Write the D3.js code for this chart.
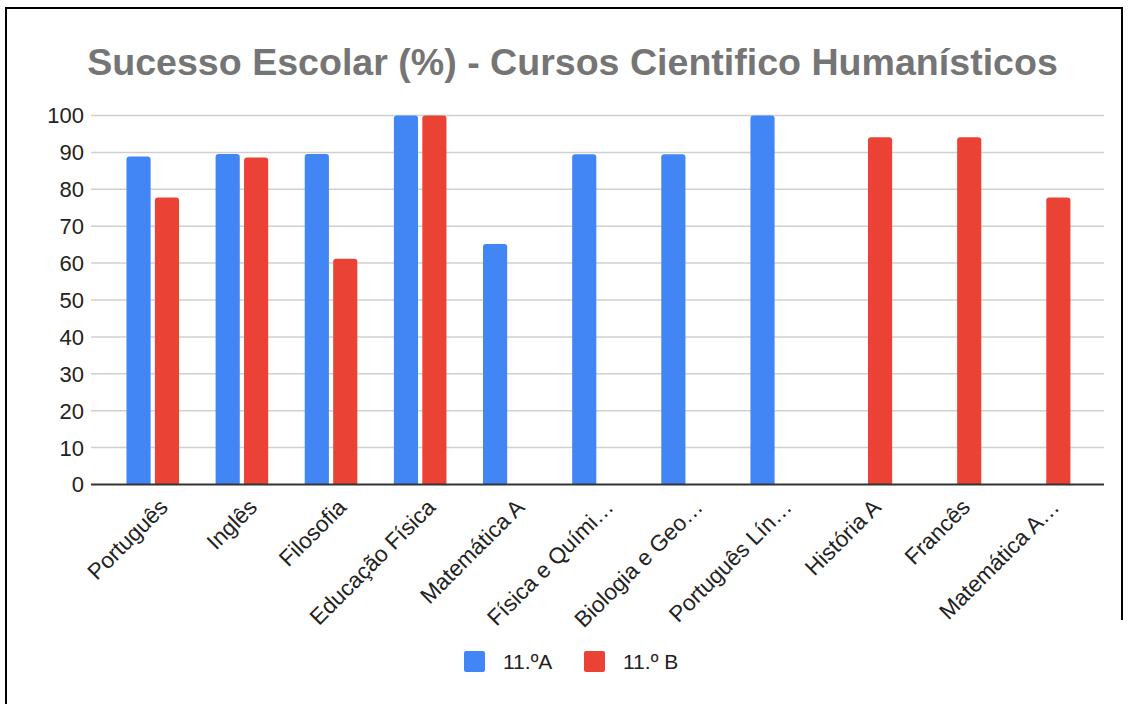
<!DOCTYPE html>
<html>
<head>
<meta charset="utf-8">
<script src="https://cdn.jsdelivr.net/npm/d3@7"></script>
<style>
  html, body { margin: 0; padding: 0; background: #fff; }
  svg { display: block; font-family: "Liberation Sans", Arial, sans-serif; }
</style>
</head>
<body>
<div id="vis"></div>
<script>
// subjects (as shown, with truncated labels)
var subjects = ["Português", "Inglês", "Filosofia", "Educação Física", "Matemática A",
  "Física e Quími…", "Biologia e Geo…", "Português Lín…", "História A", "Francês", "Matemática A…"];

var seriesNames = ["11.ºA", "11.º B"];
var seriesColors = ["#4285f4", "#ea4335"];

// success rate (%) per subject, null = no value
var turmaA = [88.9, 89.6, 89.6, 100, 65.2, 89.5, 89.5, 100, null, null, null];
var turmaB = [77.8, 88.6, 61.2, 100, null, null, null, null, 94.1, 94.1, 77.8];

var yTicks = [0, 10, 20, 30, 40, 50, 60, 70, 80, 90, 100];

var width = 1128, height = 704;

var svg = d3.select("#vis").append("svg")
  .attr("width", width)
  .attr("height", height);

// frame
svg.append("path")
  .attr("d", "M6,704 V8 H1122 V620")
  .attr("fill", "none")
  .attr("stroke", "#000")
  .attr("stroke-width", 2);

// title, fitted to width
var title = svg.append("text")
  .attr("x", 572.5)
  .attr("y", 75)
  .attr("text-anchor", "middle")
  .attr("font-weight", "bold")
  .attr("font-size", 36)
  .attr("fill", "#757575")
  .text("Sucesso Escolar (%) - Cursos Cientifico Humanísticos");
var tw = title.node().getComputedTextLength();
title.attr("font-size", 36 * 971 / tw);

var gridLeft = 91, gridRight = 1104;

var y = d3.scaleLinear().domain([0, 100]).range([484.5, 115.5]);

var x0 = d3.scaleBand()
  .domain(subjects)
  .range([108.2, 1088.7])
  .paddingInner(0.41)
  .paddingOuter(0.205);

var x1 = d3.scaleBand()
  .domain([0, 1])
  .range([0, x0.bandwidth()])
  .paddingInner(0.15);

// grid
svg.append("g").selectAll("line")
  .data(yTicks.filter(function (t) { return t > 0; }))
  .enter().append("line")
  .attr("x1", gridLeft).attr("x2", gridRight)
  .attr("y1", function (d) { return y(d); })
  .attr("y2", function (d) { return y(d); })
  .attr("stroke", "#d0d0d0")
  .attr("stroke-width", 1.5);

// y labels
svg.append("g").selectAll("text")
  .data(yTicks)
  .enter().append("text")
  .attr("x", 84)
  .attr("y", function (d) { return y(d); })
  .attr("dy", "0.36em")
  .attr("text-anchor", "end")
  .attr("font-size", 22)
  .attr("fill", "#222")
  .text(function (d) { return d; });

// bars
var rows = subjects.map(function (s, i) { return { s: s, v: [turmaA[i], turmaB[i]] }; });

function topRounded(x, yTop, w, yBot, r) {
  return "M" + x + "," + yBot +
    "V" + (yTop + r) +
    "Q" + x + "," + yTop + " " + (x + r) + "," + yTop +
    "H" + (x + w - r) +
    "Q" + (x + w) + "," + yTop + " " + (x + w) + "," + (yTop + r) +
    "V" + yBot + "Z";
}

var groups = svg.append("g").selectAll("g")
  .data(rows)
  .enter().append("g")
  .attr("transform", function (d) { return "translate(" + x0(d.s) + ",0)"; });

groups.selectAll("path")
  .data(function (d) {
    return d.v.map(function (v, k) { return { k: k, v: v }; }).filter(function (e) { return e.v != null; });
  })
  .enter().append("path")
  .attr("d", function (e) {
    return topRounded(x1(e.k), y(e.v), x1.bandwidth(), y(0), 3);
  })
  .attr("fill", function (e) { return seriesColors[e.k]; });

// baseline
svg.append("line")
  .attr("x1", gridLeft).attr("x2", gridRight)
  .attr("y1", y(0)).attr("y2", y(0))
  .attr("stroke", "#333")
  .attr("stroke-width", 2);

// x labels
svg.append("g").selectAll("text")
  .data(subjects)
  .enter().append("text")
  .attr("transform", function (d) {
    return "translate(" + (x0(d) + x0.bandwidth() / 2 + 11) + ",503) rotate(-45)";
  })
  .attr("text-anchor", "end")
  .attr("dy", "0.35em")
  .attr("font-size", 22.5)
  .attr("fill", "#222")
  .text(function (d) { return d; });

// legend
var legend = svg.append("g").selectAll("g")
  .data(seriesNames)
  .enter().append("g")
  .attr("transform", function (d, i) { return "translate(" + [464, 584][i] + ",651)"; });

legend.append("rect")
  .attr("width", 21).attr("height", 21)
  .attr("rx", 2)
  .attr("fill", function (d, i) { return seriesColors[i]; });

legend.append("text")
  .attr("x", 39)
  .attr("y", 10.5)
  .attr("dy", "0.36em")
  .attr("font-size", 21)
  .attr("fill", "#222")
  .text(function (d) { return d; });
</script>
</body>
</html>
